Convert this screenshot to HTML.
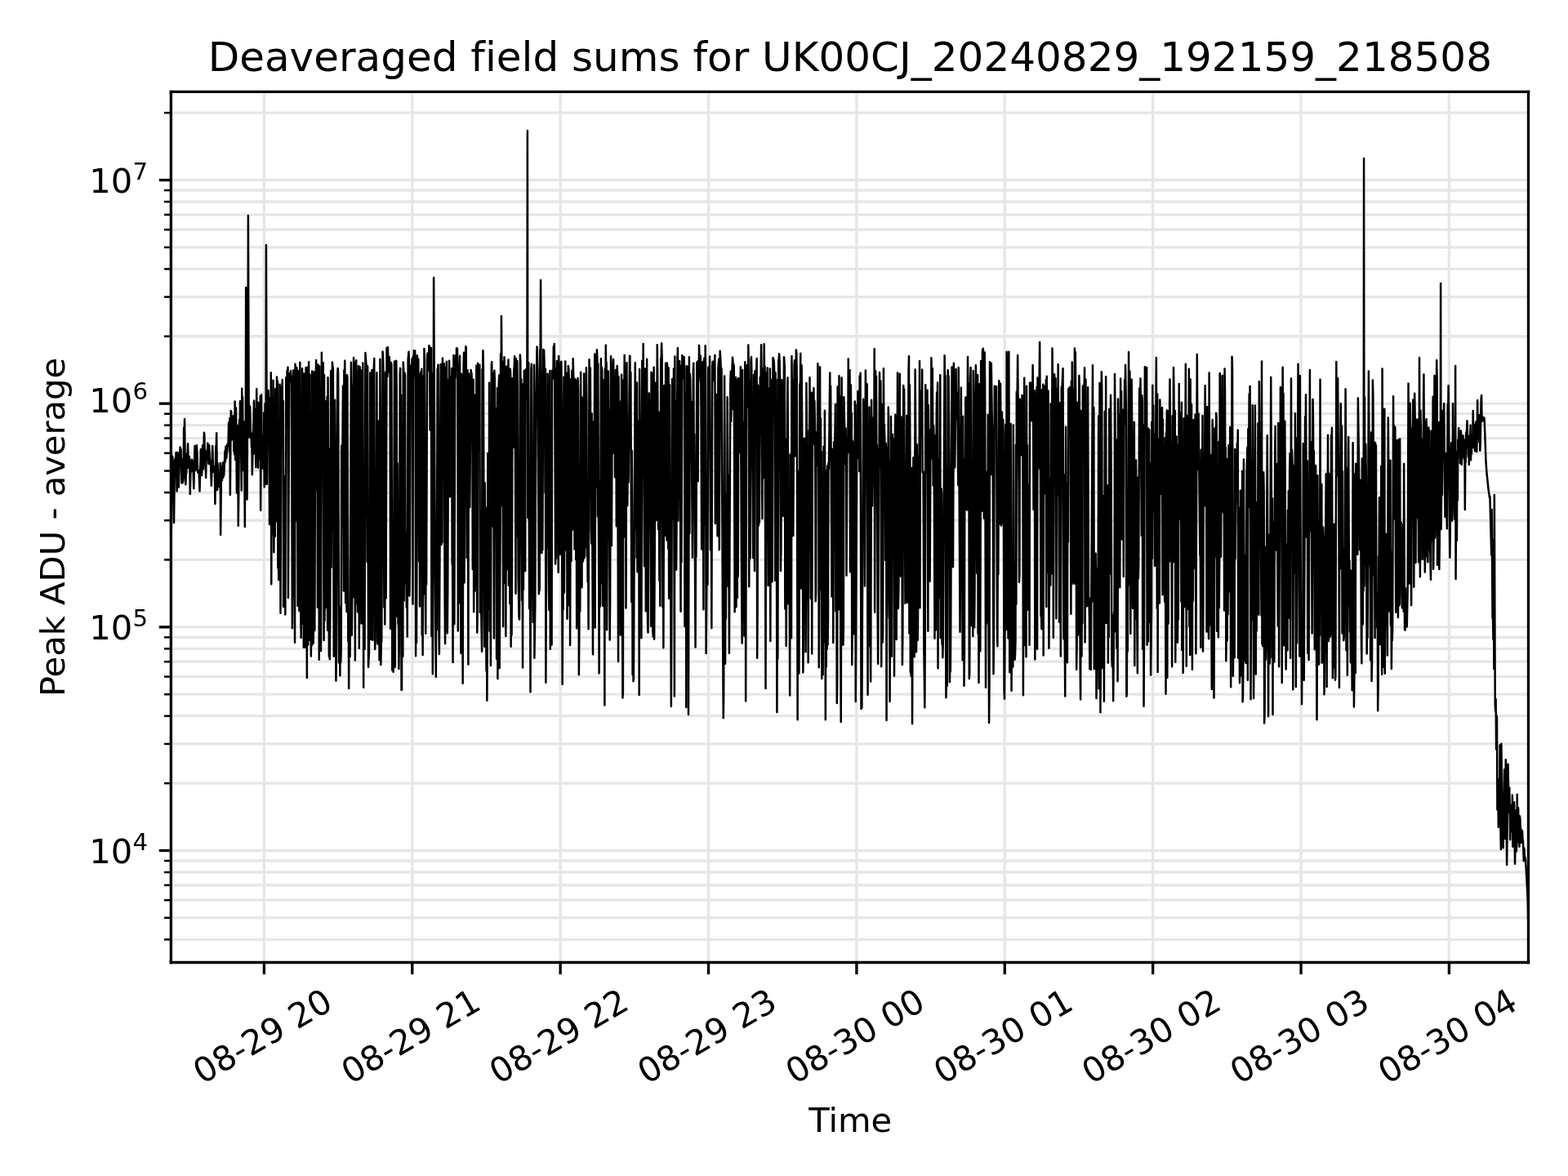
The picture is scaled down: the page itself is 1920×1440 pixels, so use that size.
<!DOCTYPE html>
<html><head><meta charset="utf-8"><title>Deaveraged field sums</title>
<style>html,body{margin:0;padding:0;background:#fff;}body{width:1920px;height:1440px;overflow:hidden;}svg{display:block;}text{font-variant-ligatures:none;font-feature-settings:"liga" 0,"clig" 0;}</style>
</head><body>
<svg width="1920" height="1440" viewBox="0 0 460.8 345.6" version="1.1"><defs><style type="text/css">*{stroke-linejoin: round; stroke-linecap: butt}</style></defs><g id="figure_1"><g id="patch_1"><path d="M 0 345.6 L 460.8 345.6 L 460.8 0 L 0 0 z" style="fill: #ffffff"/></g><g id="axes_1"><g id="patch_2"><path d="M 50.25 282.84 L 449.16 282.84 L 449.16 26.97 L 50.25 26.97 z" style="fill: #ffffff"/></g><g id="matplotlib.axis_1"><g id="xtick_1"><g id="line2d_1"><path d="M 77.61 282.84 L 77.61 26.97" clip-path="url(#pa253ac6e22)" style="fill: none; stroke: #e6e6e6; stroke-width: 0.8; stroke-linecap: square"/></g><g id="line2d_2"><g><path d="M 0 0 L 0 3.5" transform="translate(77.616 282.84)" style="stroke: #000000; stroke-width: 0.8"/></g></g><g id="text_1"><g transform="translate(-0.120 -0.120)"><text style="font-size: 10px; font-family: 'DejaVu Sans', sans-serif" transform="translate(59.52703 318.900909) rotate(-30)">08-29 20</text></g></g></g><g id="xtick_2"><g id="line2d_3"><path d="M 121.14 282.84 L 121.14 26.97" clip-path="url(#pa253ac6e22)" style="fill: none; stroke: #e6e6e6; stroke-width: 0.8; stroke-linecap: square"/></g><g id="line2d_4"><g><path d="M 0 0 L 0 3.5" transform="translate(121.146 282.84)" style="stroke: #000000; stroke-width: 0.8"/></g></g><g id="text_2"><g transform="translate(-0.120 -0.120)"><text style="font-size: 10px; font-family: 'DejaVu Sans', sans-serif" transform="translate(103.05703 318.900909) rotate(-30)">08-29 21</text></g></g></g><g id="xtick_3"><g id="line2d_5"><path d="M 164.67 282.84 L 164.67 26.97" clip-path="url(#pa253ac6e22)" style="fill: none; stroke: #e6e6e6; stroke-width: 0.8; stroke-linecap: square"/></g><g id="line2d_6"><g><path d="M 0 0 L 0 3.5" transform="translate(164.676 282.84)" style="stroke: #000000; stroke-width: 0.8"/></g></g><g id="text_3"><g transform="translate(-0.120 -0.120)"><text style="font-size: 10px; font-family: 'DejaVu Sans', sans-serif" transform="translate(146.58703 318.900909) rotate(-30)">08-29 22</text></g></g></g><g id="xtick_4"><g id="line2d_7"><path d="M 208.20 282.84 L 208.20 26.97" clip-path="url(#pa253ac6e22)" style="fill: none; stroke: #e6e6e6; stroke-width: 0.8; stroke-linecap: square"/></g><g id="line2d_8"><g><path d="M 0 0 L 0 3.5" transform="translate(208.206 282.84)" style="stroke: #000000; stroke-width: 0.8"/></g></g><g id="text_4"><g transform="translate(-0.120 -0.120)"><text style="font-size: 10px; font-family: 'DejaVu Sans', sans-serif" transform="translate(190.11703 318.900909) rotate(-30)">08-29 23</text></g></g></g><g id="xtick_5"><g id="line2d_9"><path d="M 251.73 282.84 L 251.73 26.97" clip-path="url(#pa253ac6e22)" style="fill: none; stroke: #e6e6e6; stroke-width: 0.8; stroke-linecap: square"/></g><g id="line2d_10"><g><path d="M 0 0 L 0 3.5" transform="translate(251.736 282.84)" style="stroke: #000000; stroke-width: 0.8"/></g></g><g id="text_5"><g transform="translate(-0.120 -0.120)"><text style="font-size: 10px; font-family: 'DejaVu Sans', sans-serif" transform="translate(233.64703 318.900909) rotate(-30)">08-30 00</text></g></g></g><g id="xtick_6"><g id="line2d_11"><path d="M 295.26 282.84 L 295.26 26.97" clip-path="url(#pa253ac6e22)" style="fill: none; stroke: #e6e6e6; stroke-width: 0.8; stroke-linecap: square"/></g><g id="line2d_12"><g><path d="M 0 0 L 0 3.5" transform="translate(295.266 282.84)" style="stroke: #000000; stroke-width: 0.8"/></g></g><g id="text_6"><g transform="translate(-0.120 -0.120)"><text style="font-size: 10px; font-family: 'DejaVu Sans', sans-serif" transform="translate(277.17703 318.900909) rotate(-30)">08-30 01</text></g></g></g><g id="xtick_7"><g id="line2d_13"><path d="M 338.79 282.84 L 338.79 26.97" clip-path="url(#pa253ac6e22)" style="fill: none; stroke: #e6e6e6; stroke-width: 0.8; stroke-linecap: square"/></g><g id="line2d_14"><g><path d="M 0 0 L 0 3.5" transform="translate(338.796 282.84)" style="stroke: #000000; stroke-width: 0.8"/></g></g><g id="text_7"><g transform="translate(-0.120 -0.120)"><text style="font-size: 10px; font-family: 'DejaVu Sans', sans-serif" transform="translate(320.70703 318.900909) rotate(-30)">08-30 02</text></g></g></g><g id="xtick_8"><g id="line2d_15"><path d="M 382.32 282.84 L 382.32 26.97" clip-path="url(#pa253ac6e22)" style="fill: none; stroke: #e6e6e6; stroke-width: 0.8; stroke-linecap: square"/></g><g id="line2d_16"><g><path d="M 0 0 L 0 3.5" transform="translate(382.326 282.84)" style="stroke: #000000; stroke-width: 0.8"/></g></g><g id="text_8"><g transform="translate(-0.120 -0.120)"><text style="font-size: 10px; font-family: 'DejaVu Sans', sans-serif" transform="translate(364.23703 318.900909) rotate(-30)">08-30 03</text></g></g></g><g id="xtick_9"><g id="line2d_17"><path d="M 425.85 282.84 L 425.85 26.97" clip-path="url(#pa253ac6e22)" style="fill: none; stroke: #e6e6e6; stroke-width: 0.8; stroke-linecap: square"/></g><g id="line2d_18"><g><path d="M 0 0 L 0 3.5" transform="translate(425.856 282.84)" style="stroke: #000000; stroke-width: 0.8"/></g></g><g id="text_9"><g transform="translate(-0.120 -0.120)"><text style="font-size: 10px; font-family: 'DejaVu Sans', sans-serif" transform="translate(407.76703 318.900909) rotate(-30)">08-30 04</text></g></g></g><g id="text_10"><g transform="translate(0.180 0.456)"><text style="font-size: 10px; font-family: 'DejaVu Sans', sans-serif; text-anchor: middle" x="249.708" y="332.300408" transform="rotate(-0 249.708 332.300408)">Time</text></g></g></g><g id="matplotlib.axis_2"><g id="ytick_1"><g id="line2d_19"><path d="M 50.25 249.96 L 449.16 249.96" clip-path="url(#pa253ac6e22)" style="fill: none; stroke: #e6e6e6; stroke-width: 0.8; stroke-linecap: square"/></g><g id="line2d_20"><g><path d="M 0 0 L -3.5 0" transform="translate(50.256 249.9624)" style="stroke: #000000; stroke-width: 0.8"/></g></g><g id="text_11"><!-- $\mathdefault{10^{4}}$ --><g transform="translate(25.656 253.761619)"><g transform="translate(0.552 -0.120)"><text><tspan x="0" y="-0.064063" style="font-size: 10px; font-family: 'DejaVu Sans', sans-serif">1</tspan><tspan x="6.362305" y="-0.064063" style="font-size: 10px; font-family: 'DejaVu Sans', sans-serif">0</tspan><tspan x="12.820312" y="-3.892188" style="font-size: 7px; font-family: 'DejaVu Sans', sans-serif">4</tspan></text></g></g></g></g><g id="ytick_2"><g id="line2d_21"><path d="M 50.25 184.28 L 449.16 184.28" clip-path="url(#pa253ac6e22)" style="fill: none; stroke: #e6e6e6; stroke-width: 0.8; stroke-linecap: square"/></g><g id="line2d_22"><g><path d="M 0 0 L -3.5 0" transform="translate(50.256 184.2816)" style="stroke: #000000; stroke-width: 0.8"/></g></g><g id="text_12"><!-- $\mathdefault{10^{5}}$ --><g transform="translate(25.656 188.080819)"><g transform="translate(0.552 -0.120)"><text><tspan x="0" y="-0.064063" style="font-size: 10px; font-family: 'DejaVu Sans', sans-serif">1</tspan><tspan x="6.362305" y="-0.064063" style="font-size: 10px; font-family: 'DejaVu Sans', sans-serif">0</tspan><tspan x="12.820312" y="-3.892188" style="font-size: 7px; font-family: 'DejaVu Sans', sans-serif">5</tspan></text></g></g></g></g><g id="ytick_3"><g id="line2d_23"><path d="M 50.25 118.60 L 449.16 118.60" clip-path="url(#pa253ac6e22)" style="fill: none; stroke: #e6e6e6; stroke-width: 0.8; stroke-linecap: square"/></g><g id="line2d_24"><g><path d="M 0 0 L -3.5 0" transform="translate(50.256 118.6008)" style="stroke: #000000; stroke-width: 0.8"/></g></g><g id="text_13"><!-- $\mathdefault{10^{6}}$ --><g transform="translate(25.656 122.400019)"><g transform="translate(0.552 -0.120)"><text><tspan x="0" y="-0.976562" style="font-size: 10px; font-family: 'DejaVu Sans', sans-serif">1</tspan><tspan x="6.362305" y="-0.976562" style="font-size: 10px; font-family: 'DejaVu Sans', sans-serif">0</tspan><tspan x="12.820312" y="-4.804688" style="font-size: 7px; font-family: 'DejaVu Sans', sans-serif">6</tspan></text></g></g></g></g><g id="ytick_4"><g id="line2d_25"><path d="M 50.25 52.92 L 449.16 52.92" clip-path="url(#pa253ac6e22)" style="fill: none; stroke: #e6e6e6; stroke-width: 0.8; stroke-linecap: square"/></g><g id="line2d_26"><g><path d="M 0 0 L -3.5 0" transform="translate(50.256 52.92)" style="stroke: #000000; stroke-width: 0.8"/></g></g><g id="text_14"><!-- $\mathdefault{10^{7}}$ --><g transform="translate(25.656 56.719219)"><g transform="translate(0.552 -0.120)"><text><tspan x="0" y="-0.064063" style="font-size: 10px; font-family: 'DejaVu Sans', sans-serif">1</tspan><tspan x="6.362305" y="-0.064063" style="font-size: 10px; font-family: 'DejaVu Sans', sans-serif">0</tspan><tspan x="12.820312" y="-3.892188" style="font-size: 7px; font-family: 'DejaVu Sans', sans-serif">7</tspan></text></g></g></g></g><g id="ytick_5"><g id="line2d_27"><path d="M 50.25 276.09 L 449.16 276.09" clip-path="url(#pa253ac6e22)" style="fill: none; stroke: #e6e6e6; stroke-width: 0.8; stroke-linecap: square"/></g><g id="line2d_28"><g><path d="M 0 0 L -2 0" transform="translate(50.256 276.099418)" style="stroke: #000000; stroke-width: 0.6"/></g></g></g><g id="ytick_6"><g id="line2d_29"><path d="M 50.25 269.73 L 449.16 269.73" clip-path="url(#pa253ac6e22)" style="fill: none; stroke: #e6e6e6; stroke-width: 0.8; stroke-linecap: square"/></g><g id="line2d_30"><g><path d="M 0 0 L -2 0" transform="translate(50.256 269.734291)" style="stroke: #000000; stroke-width: 0.6"/></g></g></g><g id="ytick_7"><g id="line2d_31"><path d="M 50.25 264.53 L 449.16 264.53" clip-path="url(#pa253ac6e22)" style="fill: none; stroke: #e6e6e6; stroke-width: 0.8; stroke-linecap: square"/></g><g id="line2d_32"><g><path d="M 0 0 L -2 0" transform="translate(50.256 264.533603)" style="stroke: #000000; stroke-width: 0.6"/></g></g></g><g id="ytick_8"><g id="line2d_33"><path d="M 50.25 260.13 L 449.16 260.13" clip-path="url(#pa253ac6e22)" style="fill: none; stroke: #e6e6e6; stroke-width: 0.8; stroke-linecap: square"/></g><g id="line2d_34"><g><path d="M 0 0 L -2 0" transform="translate(50.256 260.136485)" style="stroke: #000000; stroke-width: 0.6"/></g></g></g><g id="ytick_9"><g id="line2d_35"><path d="M 50.25 256.32 L 449.16 256.32" clip-path="url(#pa253ac6e22)" style="fill: none; stroke: #e6e6e6; stroke-width: 0.8; stroke-linecap: square"/></g><g id="line2d_36"><g><path d="M 0 0 L -2 0" transform="translate(50.256 256.327527)" style="stroke: #000000; stroke-width: 0.6"/></g></g></g><g id="ytick_10"><g id="line2d_37"><path d="M 50.25 252.96 L 449.16 252.96" clip-path="url(#pa253ac6e22)" style="fill: none; stroke: #e6e6e6; stroke-width: 0.8; stroke-linecap: square"/></g><g id="line2d_38"><g><path d="M 0 0 L -2 0" transform="translate(50.256 252.967789)" style="stroke: #000000; stroke-width: 0.6"/></g></g></g><g id="ytick_11"><g id="line2d_39"><path d="M 50.25 230.19 L 449.16 230.19" clip-path="url(#pa253ac6e22)" style="fill: none; stroke: #e6e6e6; stroke-width: 0.8; stroke-linecap: square"/></g><g id="line2d_40"><g><path d="M 0 0 L -2 0" transform="translate(50.256 230.190509)" style="stroke: #000000; stroke-width: 0.6"/></g></g></g><g id="ytick_12"><g id="line2d_41"><path d="M 50.25 218.62 L 449.16 218.62" clip-path="url(#pa253ac6e22)" style="fill: none; stroke: #e6e6e6; stroke-width: 0.8; stroke-linecap: square"/></g><g id="line2d_42"><g><path d="M 0 0 L -2 0" transform="translate(50.256 218.624694)" style="stroke: #000000; stroke-width: 0.6"/></g></g></g><g id="ytick_13"><g id="line2d_43"><path d="M 50.25 210.41 L 449.16 210.41" clip-path="url(#pa253ac6e22)" style="fill: none; stroke: #e6e6e6; stroke-width: 0.8; stroke-linecap: square"/></g><g id="line2d_44"><g><path d="M 0 0 L -2 0" transform="translate(50.256 210.418618)" style="stroke: #000000; stroke-width: 0.6"/></g></g></g><g id="ytick_14"><g id="line2d_45"><path d="M 50.25 204.05 L 449.16 204.05" clip-path="url(#pa253ac6e22)" style="fill: none; stroke: #e6e6e6; stroke-width: 0.8; stroke-linecap: square"/></g><g id="line2d_46"><g><path d="M 0 0 L -2 0" transform="translate(50.256 204.053491)" style="stroke: #000000; stroke-width: 0.6"/></g></g></g><g id="ytick_15"><g id="line2d_47"><path d="M 50.25 198.85 L 449.16 198.85" clip-path="url(#pa253ac6e22)" style="fill: none; stroke: #e6e6e6; stroke-width: 0.8; stroke-linecap: square"/></g><g id="line2d_48"><g><path d="M 0 0 L -2 0" transform="translate(50.256 198.852803)" style="stroke: #000000; stroke-width: 0.6"/></g></g></g><g id="ytick_16"><g id="line2d_49"><path d="M 50.25 194.45 L 449.16 194.45" clip-path="url(#pa253ac6e22)" style="fill: none; stroke: #e6e6e6; stroke-width: 0.8; stroke-linecap: square"/></g><g id="line2d_50"><g><path d="M 0 0 L -2 0" transform="translate(50.256 194.455685)" style="stroke: #000000; stroke-width: 0.6"/></g></g></g><g id="ytick_17"><g id="line2d_51"><path d="M 50.25 190.64 L 449.16 190.64" clip-path="url(#pa253ac6e22)" style="fill: none; stroke: #e6e6e6; stroke-width: 0.8; stroke-linecap: square"/></g><g id="line2d_52"><g><path d="M 0 0 L -2 0" transform="translate(50.256 190.646727)" style="stroke: #000000; stroke-width: 0.6"/></g></g></g><g id="ytick_18"><g id="line2d_53"><path d="M 50.25 187.28 L 449.16 187.28" clip-path="url(#pa253ac6e22)" style="fill: none; stroke: #e6e6e6; stroke-width: 0.8; stroke-linecap: square"/></g><g id="line2d_54"><g><path d="M 0 0 L -2 0" transform="translate(50.256 187.286989)" style="stroke: #000000; stroke-width: 0.6"/></g></g></g><g id="ytick_19"><g id="line2d_55"><path d="M 50.25 164.50 L 449.16 164.50" clip-path="url(#pa253ac6e22)" style="fill: none; stroke: #e6e6e6; stroke-width: 0.8; stroke-linecap: square"/></g><g id="line2d_56"><g><path d="M 0 0 L -2 0" transform="translate(50.256 164.509709)" style="stroke: #000000; stroke-width: 0.6"/></g></g></g><g id="ytick_20"><g id="line2d_57"><path d="M 50.25 152.94 L 449.16 152.94" clip-path="url(#pa253ac6e22)" style="fill: none; stroke: #e6e6e6; stroke-width: 0.8; stroke-linecap: square"/></g><g id="line2d_58"><g><path d="M 0 0 L -2 0" transform="translate(50.256 152.943894)" style="stroke: #000000; stroke-width: 0.6"/></g></g></g><g id="ytick_21"><g id="line2d_59"><path d="M 50.25 144.73 L 449.16 144.73" clip-path="url(#pa253ac6e22)" style="fill: none; stroke: #e6e6e6; stroke-width: 0.8; stroke-linecap: square"/></g><g id="line2d_60"><g><path d="M 0 0 L -2 0" transform="translate(50.256 144.737818)" style="stroke: #000000; stroke-width: 0.6"/></g></g></g><g id="ytick_22"><g id="line2d_61"><path d="M 50.25 138.37 L 449.16 138.37" clip-path="url(#pa253ac6e22)" style="fill: none; stroke: #e6e6e6; stroke-width: 0.8; stroke-linecap: square"/></g><g id="line2d_62"><g><path d="M 0 0 L -2 0" transform="translate(50.256 138.372691)" style="stroke: #000000; stroke-width: 0.6"/></g></g></g><g id="ytick_23"><g id="line2d_63"><path d="M 50.25 133.17 L 449.16 133.17" clip-path="url(#pa253ac6e22)" style="fill: none; stroke: #e6e6e6; stroke-width: 0.8; stroke-linecap: square"/></g><g id="line2d_64"><g><path d="M 0 0 L -2 0" transform="translate(50.256 133.172003)" style="stroke: #000000; stroke-width: 0.6"/></g></g></g><g id="ytick_24"><g id="line2d_65"><path d="M 50.25 128.77 L 449.16 128.77" clip-path="url(#pa253ac6e22)" style="fill: none; stroke: #e6e6e6; stroke-width: 0.8; stroke-linecap: square"/></g><g id="line2d_66"><g><path d="M 0 0 L -2 0" transform="translate(50.256 128.774885)" style="stroke: #000000; stroke-width: 0.6"/></g></g></g><g id="ytick_25"><g id="line2d_67"><path d="M 50.25 124.96 L 449.16 124.96" clip-path="url(#pa253ac6e22)" style="fill: none; stroke: #e6e6e6; stroke-width: 0.8; stroke-linecap: square"/></g><g id="line2d_68"><g><path d="M 0 0 L -2 0" transform="translate(50.256 124.965927)" style="stroke: #000000; stroke-width: 0.6"/></g></g></g><g id="ytick_26"><g id="line2d_69"><path d="M 50.25 121.60 L 449.16 121.60" clip-path="url(#pa253ac6e22)" style="fill: none; stroke: #e6e6e6; stroke-width: 0.8; stroke-linecap: square"/></g><g id="line2d_70"><g><path d="M 0 0 L -2 0" transform="translate(50.256 121.606189)" style="stroke: #000000; stroke-width: 0.6"/></g></g></g><g id="ytick_27"><g id="line2d_71"><path d="M 50.25 98.82 L 449.16 98.82" clip-path="url(#pa253ac6e22)" style="fill: none; stroke: #e6e6e6; stroke-width: 0.8; stroke-linecap: square"/></g><g id="line2d_72"><g><path d="M 0 0 L -2 0" transform="translate(50.256 98.828909)" style="stroke: #000000; stroke-width: 0.6"/></g></g></g><g id="ytick_28"><g id="line2d_73"><path d="M 50.25 87.26 L 449.16 87.26" clip-path="url(#pa253ac6e22)" style="fill: none; stroke: #e6e6e6; stroke-width: 0.8; stroke-linecap: square"/></g><g id="line2d_74"><g><path d="M 0 0 L -2 0" transform="translate(50.256 87.263094)" style="stroke: #000000; stroke-width: 0.6"/></g></g></g><g id="ytick_29"><g id="line2d_75"><path d="M 50.25 79.05 L 449.16 79.05" clip-path="url(#pa253ac6e22)" style="fill: none; stroke: #e6e6e6; stroke-width: 0.8; stroke-linecap: square"/></g><g id="line2d_76"><g><path d="M 0 0 L -2 0" transform="translate(50.256 79.057018)" style="stroke: #000000; stroke-width: 0.6"/></g></g></g><g id="ytick_30"><g id="line2d_77"><path d="M 50.25 72.69 L 449.16 72.69" clip-path="url(#pa253ac6e22)" style="fill: none; stroke: #e6e6e6; stroke-width: 0.8; stroke-linecap: square"/></g><g id="line2d_78"><g><path d="M 0 0 L -2 0" transform="translate(50.256 72.691891)" style="stroke: #000000; stroke-width: 0.6"/></g></g></g><g id="ytick_31"><g id="line2d_79"><path d="M 50.25 67.49 L 449.16 67.49" clip-path="url(#pa253ac6e22)" style="fill: none; stroke: #e6e6e6; stroke-width: 0.8; stroke-linecap: square"/></g><g id="line2d_80"><g><path d="M 0 0 L -2 0" transform="translate(50.256 67.491203)" style="stroke: #000000; stroke-width: 0.6"/></g></g></g><g id="ytick_32"><g id="line2d_81"><path d="M 50.25 63.09 L 449.16 63.09" clip-path="url(#pa253ac6e22)" style="fill: none; stroke: #e6e6e6; stroke-width: 0.8; stroke-linecap: square"/></g><g id="line2d_82"><g><path d="M 0 0 L -2 0" transform="translate(50.256 63.094085)" style="stroke: #000000; stroke-width: 0.6"/></g></g></g><g id="ytick_33"><g id="line2d_83"><path d="M 50.25 59.28 L 449.16 59.28" clip-path="url(#pa253ac6e22)" style="fill: none; stroke: #e6e6e6; stroke-width: 0.8; stroke-linecap: square"/></g><g id="line2d_84"><g><path d="M 0 0 L -2 0" transform="translate(50.256 59.285127)" style="stroke: #000000; stroke-width: 0.6"/></g></g></g><g id="ytick_34"><g id="line2d_85"><path d="M 50.25 55.92 L 449.16 55.92" clip-path="url(#pa253ac6e22)" style="fill: none; stroke: #e6e6e6; stroke-width: 0.8; stroke-linecap: square"/></g><g id="line2d_86"><g><path d="M 0 0 L -2 0" transform="translate(50.256 55.925389)" style="stroke: #000000; stroke-width: 0.6"/></g></g></g><g id="ytick_35"><g id="line2d_87"><path d="M 50.25 33.14 L 449.16 33.14" clip-path="url(#pa253ac6e22)" style="fill: none; stroke: #e6e6e6; stroke-width: 0.8; stroke-linecap: square"/></g><g id="line2d_88"><g><path d="M 0 0 L -2 0" transform="translate(50.256 33.148109)" style="stroke: #000000; stroke-width: 0.6"/></g></g></g><g id="text_15"><g transform="translate(-0.552 0.000)"><text style="font-size: 10px; font-family: 'DejaVu Sans', sans-serif; text-anchor: middle" x="19.576313" y="154.908" transform="rotate(-90 19.576313 154.908)">Peak ADU - average</text></g></g></g><g id="line2d_89"><path d="M 50.25 138.80 L 50.36 156 L 50.58 134.06 L 50.68 134.12 L 50.79 135.55 L 51.01 142.33 L 51.12 153.6 L 51.33 136.89 L 51.44 134.80 L 51.55 136.57 L 51.76 132.94 L 51.98 144.38 L 52.2 133.03 L 52.52 143.15 L 52.74 134.67 L 52.95 131.40 L 53.06 132.26 L 53.17 132.00 L 53.38 141.95 L 53.60 134.99 L 53.71 141.85 L 53.92 139.50 L 54.03 125.73 L 54.14 130.94 L 54.25 123.12 L 54.46 141.13 L 54.57 142.40 L 54.68 138.68 L 54.79 139.15 L 54.9 133.47 L 55.00 136.24 L 55.22 130.40 L 55.33 137.45 L 55.44 135.48 L 55.54 136.61 L 55.65 134.16 L 55.76 137.10 L 55.87 145.2 L 56.08 135.29 L 56.19 138.60 L 56.30 137.53 L 56.41 135.06 L 56.52 135.99 L 56.62 135.72 L 56.73 136.01 L 56.95 143.56 L 57.16 134.17 L 57.27 131.02 L 57.38 131.42 L 57.49 138.25 L 57.81 130.86 L 57.92 132.91 L 58.14 138.86 L 58.24 138.18 L 58.46 138.73 L 58.68 144.36 L 59.00 132.07 L 59.11 133.25 L 59.32 139.69 L 59.54 130.92 L 59.65 132.95 L 59.76 137.83 L 59.97 127.16 L 60.08 127.72 L 60.19 133.82 L 60.3 132.38 L 60.51 140.37 L 60.62 133.47 L 60.84 134.86 L 61.05 130.23 L 61.27 136.24 L 61.38 135.72 L 61.48 130.85 L 61.70 136.37 L 61.81 135.32 L 61.92 136.04 L 62.13 142.71 L 62.35 134.26 L 62.46 131.02 L 62.67 138.73 L 62.78 137.67 L 62.89 137.97 L 63 137.11 L 63.10 137.93 L 63.21 148.08 L 63.43 131.19 L 63.54 131.57 L 63.64 127.29 L 63.86 144 L 63.97 136.21 L 64.08 142.11 L 64.18 141.05 L 64.51 143.18 L 64.72 136.06 L 64.83 157.2 L 65.05 137.41 L 65.16 137.06 L 65.26 141.17 L 65.48 135.96 L 65.59 140.35 L 65.7 138.99 L 65.80 139.73 L 66.13 132.49 L 66.24 135.67 L 66.34 131.20 L 66.45 132.31 L 66.56 134.65 L 66.78 130.64 L 66.88 130.51 L 66.99 130.96 L 67.10 130.10 L 67.21 124.21 L 67.42 132.76 L 67.53 122.96 L 67.64 145.44 L 67.86 120.75 L 67.96 121.04 L 68.18 129.19 L 68.29 124.53 L 68.4 125.40 L 68.61 122.21 L 68.72 132.56 L 68.83 131.84 L 68.94 133.54 L 69.04 117.98 L 69.15 135.12 L 69.37 119.87 L 69.58 144.83 L 69.91 125.04 L 70.02 154.52 L 70.12 147.05 L 70.34 123.32 L 70.45 130.02 L 70.56 117.89 L 70.66 128.97 L 70.77 126.83 L 70.99 144.14 L 71.1 114.20 L 71.20 125.89 L 71.31 116.67 L 71.42 137.54 L 71.53 135.47 L 71.64 138.35 L 71.74 123.94 L 71.96 154.79 L 72.07 128.88 L 72.18 135.05 L 72.28 84.48 L 72.39 130.07 L 72.50 119.28 L 72.61 146.76 L 72.72 126.75 L 72.82 127.45 L 72.93 63.36 L 73.15 127.95 L 73.26 125.21 L 73.36 128.58 L 73.47 119.41 L 73.69 127.36 L 73.8 127.18 L 73.90 131.39 L 74.01 128.76 L 74.12 139.49 L 74.34 130.38 L 74.66 117.75 L 74.77 133.31 L 74.88 120.20 L 74.98 120.50 L 75.20 137.36 L 75.42 114.31 L 75.63 134.99 L 75.74 118.30 L 75.85 137.43 L 76.06 118.32 L 76.28 128.99 L 76.39 134.89 L 76.5 116.38 L 76.60 150.01 L 76.82 115.98 L 76.93 135.75 L 77.04 127.87 L 77.14 137.65 L 77.25 128.51 L 77.36 130.90 L 77.47 137.61 L 77.58 121.33 L 77.68 143.12 L 77.90 118.54 L 78.12 142.27 L 78.22 72 L 78.44 142.27 L 78.55 114.47 L 78.66 114.96 L 78.76 124.29 L 78.87 114.86 L 79.09 129.88 L 79.2 154.10 L 79.41 116.93 L 79.52 138.91 L 79.63 109.51 L 79.74 171.68 L 79.95 116.57 L 80.06 156.99 L 80.17 143.72 L 80.28 111.81 L 80.49 162.29 L 80.71 121.79 L 80.82 157.64 L 80.92 114.29 L 81.14 153.21 L 81.36 110.79 L 81.46 113.69 L 81.57 112.12 L 81.68 166.93 L 81.79 161.88 L 81.9 170.41 L 82.11 164.46 L 82.22 112.96 L 82.44 180.18 L 82.65 113.68 L 82.76 119.35 L 82.98 111.58 L 83.08 130.59 L 83.19 117.86 L 83.30 178.34 L 83.41 166.19 L 83.52 168.15 L 83.62 176.65 L 83.73 139.92 L 83.84 180.59 L 84.06 110.96 L 84.16 112.02 L 84.27 117.42 L 84.38 108.91 L 84.49 112.43 L 84.6 107.94 L 84.70 175.68 L 85.03 109.78 L 85.24 112.21 L 85.46 108.94 L 85.57 111.27 L 85.68 110.61 L 85.89 184.62 L 86.00 169.29 L 86.11 175.41 L 86.22 108.86 L 86.32 158.10 L 86.43 139.43 L 86.65 188.81 L 86.76 106.99 L 86.86 114.12 L 86.97 108.34 L 87.08 153.11 L 87.19 108.01 L 87.3 109.02 L 87.40 129.30 L 87.51 178.09 L 87.84 109.02 L 87.94 179.52 L 88.16 106.51 L 88.38 179.16 L 88.48 187.38 L 88.59 130.23 L 88.70 183.35 L 88.81 108.30 L 88.92 161.94 L 89.02 109.75 L 89.24 190.23 L 89.35 109.82 L 89.56 131.49 L 89.67 190.27 L 89.78 189.07 L 89.89 108.06 L 90.21 199.18 L 90.32 107.92 L 90.43 108.30 L 90.54 189.51 L 90.75 106.36 L 90.97 188.11 L 91.08 110.13 L 91.18 172.73 L 91.29 153.27 L 91.40 192.83 L 91.51 178.81 L 91.62 189.72 L 91.72 109.10 L 91.83 110.22 L 91.94 115.98 L 92.05 189.13 L 92.16 184.73 L 92.26 109.32 L 92.48 185.30 L 92.7 115.79 L 92.91 105.82 L 93.02 110.42 L 93.13 143.90 L 93.24 108.38 L 93.34 178.50 L 93.45 107.16 L 93.56 108.10 L 93.67 108.64 L 93.78 193.86 L 93.88 107.67 L 94.10 187.11 L 94.21 180.59 L 94.32 191.29 L 94.53 103.60 L 94.64 135.68 L 94.75 107.30 L 94.86 108.89 L 94.96 106.63 L 95.18 188.16 L 95.29 110.21 L 95.4 182.41 L 95.83 117.91 L 95.94 178.53 L 96.04 177.58 L 96.15 116.57 L 96.26 185.24 L 96.37 110.97 L 96.69 192.94 L 96.80 132.00 L 96.91 193.72 L 97.02 180.38 L 97.23 109.02 L 97.34 166.72 L 97.66 106.43 L 97.77 108.02 L 97.88 108.07 L 98.1 192.87 L 98.20 190.74 L 98.31 181.73 L 98.42 117.56 L 98.53 133.37 L 98.74 200.05 L 98.85 192.98 L 99.18 110.01 L 99.28 108.23 L 99.39 109.95 L 99.61 194.76 L 99.72 178.20 L 99.93 198.52 L 100.04 181.14 L 100.15 194.61 L 100.26 189.82 L 100.36 130.98 L 100.47 154.73 L 100.8 113.43 L 101.01 173.64 L 101.12 108.86 L 101.23 115.46 L 101.34 105.99 L 101.44 116.80 L 101.55 177.17 L 101.66 162.92 L 101.77 166.41 L 101.88 179.75 L 101.98 110.20 L 102.09 111.07 L 102.31 188.38 L 102.42 180.39 L 102.52 202.33 L 102.63 180.62 L 102.85 192.95 L 103.17 106.53 L 103.28 114.16 L 103.39 186.64 L 103.60 164.03 L 103.71 113.32 L 103.82 175.45 L 103.93 105.13 L 104.04 111.37 L 104.14 128.11 L 104.25 106.53 L 104.36 194.04 L 104.58 106.77 L 104.68 105.90 L 104.79 177.38 L 104.90 109.15 L 105.12 179.83 L 105.22 175.04 L 105.33 107.50 L 105.44 108.26 L 105.55 190.52 L 105.76 107.79 L 105.87 110.12 L 105.98 177.96 L 106.09 172.11 L 106.2 183.26 L 106.30 108.80 L 106.52 181.41 L 106.63 106.66 L 106.84 202.04 L 106.95 136.79 L 107.06 140.09 L 107.17 190.74 L 107.38 103.69 L 107.71 108.40 L 107.92 165.09 L 108.03 107.65 L 108.25 196.01 L 108.46 191.75 L 108.57 174.13 L 108.68 187.68 L 108.79 109.55 L 108.9 175.45 L 109.00 141.91 L 109.11 187.90 L 109.22 181.95 L 109.33 108.71 L 109.44 125.51 L 109.54 188.08 L 109.76 108.95 L 109.87 108.20 L 109.98 105.36 L 110.19 190.78 L 110.30 188.53 L 110.41 175.84 L 110.52 146.07 L 110.62 157.93 L 110.73 109.53 L 110.95 188.74 L 111.06 189.32 L 111.16 124.86 L 111.27 138.70 L 111.38 123.61 L 111.49 194.00 L 111.6 178.08 L 111.70 105.61 L 111.81 127.75 L 111.92 195.33 L 112.03 188.47 L 112.14 188.59 L 112.24 167.36 L 112.46 103.34 L 112.57 104.96 L 112.68 109.34 L 112.89 178.45 L 113.00 126.23 L 113.11 183.47 L 113.32 109.39 L 113.43 175.82 L 113.65 102.23 L 113.76 104.95 L 113.86 110.61 L 113.97 102.06 L 114.19 109.32 L 114.40 104.87 L 114.62 108.76 L 114.73 184.71 L 114.84 176.67 L 114.94 106.55 L 115.05 107.11 L 115.27 197.00 L 115.48 174.60 L 115.59 197.47 L 115.70 174.28 L 115.92 106.18 L 116.02 108.52 L 116.13 196.03 L 116.24 108.85 L 116.35 117.73 L 116.46 106.04 L 116.56 113.98 L 116.67 181.06 L 116.78 136.18 L 117 183.46 L 117.10 178.29 L 117.21 196.56 L 117.32 189.41 L 117.54 109.75 L 117.64 108.21 L 117.75 149.45 L 117.86 116.10 L 117.97 202.79 L 118.08 202.75 L 118.29 124.80 L 118.40 192.91 L 118.51 106.46 L 118.62 108.84 L 118.72 176.48 L 118.83 109.56 L 118.94 109.63 L 119.05 110.40 L 119.16 171.56 L 119.26 159.20 L 119.48 178.56 L 119.59 156.44 L 119.7 187.05 L 119.91 105.75 L 120.13 103.37 L 120.24 107.31 L 120.34 175.05 L 120.45 164.83 L 120.67 107.45 L 120.88 109.77 L 120.99 109.36 L 121.10 105.44 L 121.21 108.56 L 121.32 177.51 L 121.42 104.72 L 121.53 109.10 L 121.64 103.05 L 121.75 110.76 L 121.86 108.78 L 121.96 103.08 L 122.07 110.16 L 122.18 192.78 L 122.29 172.93 L 122.4 188.80 L 122.50 163.28 L 122.61 104.48 L 122.72 127.86 L 122.94 105.56 L 123.15 164.94 L 123.26 112.34 L 123.37 178.22 L 123.48 109.96 L 123.58 168.38 L 123.69 109.26 L 123.80 160.07 L 123.91 108.44 L 124.02 186.57 L 124.12 172.72 L 124.23 192.49 L 124.45 110.49 L 124.56 174.54 L 124.66 102.47 L 124.77 104.92 L 124.99 172.53 L 125.1 186.18 L 125.20 140.89 L 125.31 171.75 L 125.53 105.67 L 125.64 103.83 L 125.85 108.86 L 125.96 108.89 L 126.07 101.58 L 126.18 101.72 L 126.28 105.92 L 126.39 126.37 L 126.61 108.26 L 126.72 102.24 L 126.82 186.93 L 126.93 109.69 L 127.15 198.04 L 127.26 181.77 L 127.47 81.6 L 127.90 169.99 L 128.12 198.88 L 128.23 155.71 L 128.34 185.18 L 128.55 108.45 L 128.66 108.86 L 128.77 107.23 L 128.98 184.99 L 129.09 192.23 L 129.52 107.05 L 129.74 160.01 L 129.85 108.52 L 129.96 159.44 L 130.06 105.26 L 130.17 110.05 L 130.28 109.30 L 130.39 109.57 L 130.5 106.87 L 130.71 176.67 L 130.82 189.12 L 130.93 169.87 L 131.04 107.99 L 131.14 109.87 L 131.25 106.28 L 131.47 186.04 L 131.58 173.72 L 131.79 111.52 L 131.90 141.86 L 132.01 106.01 L 132.12 117.19 L 132.22 145.98 L 132.44 110.68 L 132.55 137.28 L 132.76 108.22 L 132.87 165.87 L 132.98 163.63 L 133.09 194.66 L 133.30 104.42 L 133.52 183.40 L 133.74 105.27 L 133.84 111.06 L 133.95 104.40 L 134.06 108.90 L 134.17 102.30 L 134.28 108.63 L 134.38 102.40 L 134.49 108.69 L 134.60 185.41 L 134.71 143.41 L 134.82 177.26 L 135.03 108.41 L 135.14 104.60 L 135.25 165.90 L 135.36 142.23 L 135.46 191.95 L 135.57 109.89 L 135.68 111.95 L 135.79 131.43 L 136.00 200.82 L 136.22 107.73 L 136.33 103.62 L 136.44 171.26 L 136.65 110.19 L 136.76 117.27 L 136.87 101.83 L 136.98 102.04 L 137.19 163.94 L 137.30 154.56 L 137.41 108.76 L 137.62 195.23 L 137.73 109.88 L 137.84 120.34 L 137.95 111.06 L 138.06 149.10 L 138.27 124.52 L 138.38 108.72 L 138.49 114.31 L 138.6 109.67 L 138.70 112.81 L 138.81 121.06 L 138.92 167.26 L 139.14 111.52 L 139.24 179.81 L 139.46 116.07 L 139.57 173.66 L 139.78 150.80 L 139.89 154.29 L 140.00 107.47 L 140.22 185.89 L 140.32 180.26 L 140.43 106.76 L 140.54 126.75 L 140.65 108.66 L 140.76 110.94 L 140.86 132.15 L 140.97 107.21 L 141.08 179.99 L 141.19 150.12 L 141.40 178.55 L 141.62 191.44 L 141.73 108.52 L 141.84 116.97 L 141.94 103.02 L 142.05 107.83 L 142.27 180.38 L 142.38 190.00 L 142.48 141.95 L 142.59 159.69 L 142.70 149.18 L 142.92 197.12 L 143.02 151.65 L 143.13 205.85 L 143.24 182.25 L 143.35 133.24 L 143.56 178.97 L 143.67 176.43 L 143.78 112.50 L 143.89 185.48 L 144 163.31 L 144.21 195.58 L 144.43 107.44 L 144.54 106.35 L 144.86 154.68 L 144.97 109.66 L 145.18 187.55 L 145.29 108.91 L 145.40 111.76 L 145.51 143.55 L 145.72 119.96 L 145.94 193.63 L 146.05 185.99 L 146.16 114.00 L 146.26 199.45 L 146.37 179.23 L 146.59 112.49 L 146.7 110.30 L 146.80 196.32 L 147.02 156.89 L 147.13 103.99 L 147.24 144.23 L 147.34 92.88 L 147.45 105.96 L 147.56 148.63 L 147.67 109.29 L 147.88 184.07 L 147.99 106.19 L 148.10 110.84 L 148.21 104.93 L 148.32 110.56 L 148.42 171.33 L 148.53 107.77 L 148.64 186.93 L 148.86 107.75 L 148.96 111.72 L 149.07 167.28 L 149.18 107.56 L 149.29 113.71 L 149.4 105.70 L 149.50 172.02 L 149.61 160.81 L 149.72 114.57 L 149.83 177.37 L 149.94 108.41 L 150.04 109.77 L 150.15 190.01 L 150.26 160.26 L 150.37 186.58 L 150.48 166.38 L 150.58 111.17 L 150.69 112.64 L 150.80 131.60 L 151.02 108.64 L 151.12 108.08 L 151.23 104.72 L 151.34 112.06 L 151.56 174.39 L 151.66 105.43 L 151.77 157.76 L 151.99 106.09 L 152.1 114.03 L 152.31 169.56 L 152.53 181.38 L 152.64 182.05 L 152.74 157.90 L 152.85 104.29 L 152.96 106.40 L 153.07 130.55 L 153.18 111.37 L 153.39 176.47 L 153.50 157.24 L 153.61 196.21 L 153.72 112.86 L 153.82 173.30 L 154.04 108.95 L 154.15 157.03 L 154.26 111.05 L 154.36 167.79 L 154.47 108.58 L 154.58 117.13 L 154.69 108.70 L 154.8 111.10 L 154.90 110.95 L 155.01 38.4 L 155.12 152.16 L 155.34 106.57 L 155.55 178.85 L 155.66 176.49 L 155.77 165.22 L 155.88 203.34 L 156.09 108.81 L 156.20 106.99 L 156.31 162.53 L 156.42 160.72 L 156.63 182.88 L 156.96 107.23 L 157.06 193.37 L 157.28 177.05 L 157.5 119.98 L 157.82 101.91 L 158.04 110.07 L 158.36 174.56 L 158.47 151.40 L 158.58 173.49 L 158.68 102.71 L 158.79 104.82 L 158.90 82.32 L 159.22 162.51 L 159.33 109.54 L 159.44 161.60 L 159.66 102.72 L 159.76 104.26 L 159.87 102.88 L 160.09 110.94 L 160.2 144.75 L 160.30 108.40 L 160.41 200.56 L 160.63 141.82 L 160.74 161.03 L 160.95 109.84 L 161.06 125.72 L 161.28 173.78 L 161.38 179.29 L 161.60 108.97 L 161.71 190.74 L 161.82 152.21 L 162.14 189.49 L 162.25 108.92 L 162.36 109.45 L 162.46 109.88 L 162.57 111.24 L 162.68 101.81 L 162.79 108.82 L 162.9 101.04 L 163.00 109.92 L 163.22 165.72 L 163.33 108.34 L 163.44 164.09 L 163.65 106.08 L 163.76 106.19 L 163.87 106.96 L 163.98 119.45 L 164.08 168.16 L 164.19 104.64 L 164.30 107.84 L 164.41 162.01 L 164.52 157.49 L 164.62 162.93 L 164.73 106.75 L 164.84 161.77 L 164.95 106.29 L 165.06 118.72 L 165.27 201.09 L 165.38 178.14 L 165.49 179.13 L 165.70 110.81 L 165.81 174.14 L 166.14 106.19 L 166.24 115.99 L 166.35 161.61 L 166.57 109.66 L 166.68 181.86 L 167.00 107.55 L 167.11 108.46 L 167.22 110.90 L 167.32 177.95 L 167.43 117.31 L 167.54 189.59 L 167.76 111.49 L 167.86 164.89 L 168.08 108.95 L 168.19 112.85 L 168.3 155.62 L 168.40 105.44 L 168.62 113.74 L 168.73 111.26 L 168.84 161.41 L 169.05 111.45 L 169.16 126.02 L 169.27 164.42 L 169.38 132.11 L 169.48 184.65 L 169.59 111.81 L 169.70 176.29 L 169.81 111.14 L 169.92 114.11 L 170.13 198.32 L 170.24 185.13 L 170.35 136.25 L 170.46 179.71 L 170.67 109.38 L 170.78 147.16 L 170.89 143.00 L 171 172.63 L 171.10 116.81 L 171.32 164.97 L 171.43 159.10 L 171.64 109.82 L 171.75 163.99 L 171.86 155.28 L 171.97 160.92 L 172.08 121.51 L 172.18 129.90 L 172.29 108.06 L 172.40 117.84 L 172.51 163.50 L 172.62 152.03 L 172.72 171.00 L 172.83 160.66 L 172.94 184.85 L 173.16 105.64 L 173.26 129.93 L 173.48 108.14 L 173.7 155.49 L 173.80 159.69 L 173.91 121.53 L 174.24 192.30 L 174.34 124.04 L 174.45 128.86 L 174.56 154.66 L 174.78 104.03 L 174.88 184.42 L 174.99 106.79 L 175.10 143.27 L 175.32 108.23 L 175.42 102.81 L 175.53 105.56 L 175.64 151.80 L 175.75 106.83 L 176.07 197.85 L 176.18 141.86 L 176.29 178.36 L 176.4 177.64 L 176.61 105.43 L 176.72 171.45 L 176.83 107.96 L 176.94 109.06 L 177.15 178.10 L 177.26 111.67 L 177.37 120.88 L 177.48 113.79 L 177.69 207.23 L 177.80 108.30 L 177.91 159.80 L 178.02 101.44 L 178.12 109.05 L 178.23 106.59 L 178.34 185.12 L 178.77 109.10 L 178.88 128.29 L 178.99 120.41 L 179.20 188.04 L 179.31 175.34 L 179.53 104.72 L 179.64 106.70 L 179.74 160.32 L 179.96 109.36 L 180.07 126.19 L 180.28 105.63 L 180.39 133.13 L 180.61 110.71 L 180.72 140.20 L 180.93 108.73 L 181.04 109.32 L 181.15 154.62 L 181.26 141.33 L 181.36 107.54 L 181.47 109.81 L 181.69 194.42 L 181.8 110.70 L 181.90 141.18 L 182.01 117.89 L 182.12 163.01 L 182.23 160.27 L 182.34 186.61 L 182.44 169.93 L 182.66 110.08 L 182.98 205.09 L 183.09 203.78 L 183.20 111.67 L 183.31 143.33 L 183.52 104.37 L 183.74 157.87 L 183.85 108.62 L 183.96 178.67 L 184.17 106.61 L 184.39 148.57 L 184.60 124.53 L 184.71 141.74 L 185.04 104.56 L 185.14 104.62 L 185.25 131.72 L 185.36 109.38 L 185.58 176.88 L 185.68 132.45 L 185.79 148.23 L 185.90 198.21 L 186.01 176.99 L 186.12 200.19 L 186.22 199.27 L 186.44 149.40 L 186.66 106.61 L 186.87 155.56 L 186.98 127.83 L 187.09 163.85 L 187.2 112.42 L 187.30 168.06 L 187.63 130.46 L 187.74 123.74 L 187.84 204.23 L 187.95 108.51 L 188.06 124.16 L 188.17 173.24 L 188.28 170.04 L 188.38 130.50 L 188.49 187.52 L 188.71 106.03 L 188.82 136.60 L 189.03 101.06 L 189.36 166.38 L 189.46 117.26 L 189.57 136.21 L 189.68 108.30 L 189.79 179.58 L 190.00 170.26 L 190.11 105.55 L 190.33 183.30 L 190.44 185.87 L 190.65 152.56 L 190.76 115.57 L 190.98 155.40 L 191.08 152.96 L 191.19 117.51 L 191.30 184.04 L 191.41 109.40 L 191.52 115.39 L 191.62 109.66 L 191.84 185.39 L 191.95 187.11 L 192.06 174.01 L 192.16 107.95 L 192.27 187.87 L 192.70 112.51 L 192.92 152.87 L 193.14 101.35 L 193.24 108.65 L 193.46 155.53 L 193.57 129.57 L 193.78 170.62 L 193.89 121.09 L 194.00 178.03 L 194.22 105.29 L 194.32 106.24 L 194.43 100.89 L 194.54 104.84 L 194.76 178.44 L 194.86 154.32 L 194.97 190.35 L 195.19 113.29 L 195.3 137.24 L 195.40 122.70 L 195.51 157.35 L 195.62 106.77 L 195.73 155.20 L 195.84 112.64 L 195.94 158.78 L 196.05 106.69 L 196.16 108.68 L 196.27 118.12 L 196.38 161.22 L 196.48 108.11 L 196.59 175.88 L 196.70 162.52 L 196.81 113.08 L 196.92 169.21 L 197.02 152.55 L 197.24 207.59 L 197.35 181.94 L 197.56 111.36 L 197.67 152.49 L 197.78 152.07 L 198 108.35 L 198.21 204.58 L 198.32 104.78 L 198.43 136.05 L 198.54 117.86 L 198.75 167.40 L 198.86 150.33 L 199.08 105.45 L 199.18 102.25 L 199.29 152.98 L 199.51 110.30 L 199.62 111.28 L 199.72 106.06 L 199.83 119.16 L 200.05 179.68 L 200.16 107.48 L 200.26 165.24 L 200.48 104.42 L 200.7 105.91 L 200.80 111.11 L 201.02 104.87 L 201.13 108.57 L 201.24 184.06 L 201.34 115.62 L 201.45 151.25 L 201.56 138.05 L 201.67 207.84 L 201.78 107.59 L 201.88 157.29 L 201.99 107.72 L 202.10 108.23 L 202.21 111.74 L 202.32 210.01 L 202.53 104.93 L 202.64 156.73 L 202.75 109.83 L 202.86 111.42 L 203.07 129.66 L 203.18 118.09 L 203.50 163.86 L 203.72 108.72 L 203.83 106.71 L 203.94 138.14 L 204.04 127.59 L 204.37 190.17 L 204.48 157.42 L 204.58 163.70 L 204.80 106.51 L 204.91 109.00 L 205.02 106.21 L 205.12 141.43 L 205.23 106.89 L 205.34 111.97 L 205.45 101.54 L 205.77 110.53 L 205.88 104.64 L 205.99 110.99 L 206.20 161.42 L 206.42 109.07 L 206.53 106.33 L 206.74 179.09 L 206.96 105.31 L 207.07 111.93 L 207.18 154.04 L 207.28 101.58 L 207.39 109.77 L 207.50 192.01 L 207.82 155.63 L 207.93 171.84 L 208.15 107.87 L 208.26 132.60 L 208.36 109.50 L 208.47 130.29 L 208.58 104.78 L 208.8 161.58 L 209.01 141.37 L 209.12 184.59 L 209.34 107.58 L 209.44 106.25 L 209.55 108.44 L 209.66 106.84 L 209.77 111.82 L 210.09 104.41 L 210.20 153.83 L 210.42 115.89 L 210.52 124.99 L 210.63 121.61 L 210.85 157.51 L 211.06 108.16 L 211.28 105.47 L 211.39 161.58 L 211.60 103.16 L 211.82 106.95 L 211.93 124.39 L 212.04 108.25 L 212.36 176.06 L 212.58 211.00 L 212.68 204.13 L 212.90 110.50 L 213.01 131.72 L 213.12 195.06 L 213.22 172.82 L 213.33 181.83 L 213.44 145.15 L 213.66 162.07 L 213.76 116.71 L 213.98 172.34 L 214.09 139.59 L 214.30 191.93 L 214.63 112.97 L 214.74 109.15 L 214.84 123.84 L 215.06 111.31 L 215.28 105.03 L 215.38 106.04 L 215.49 120.32 L 215.60 107.05 L 215.71 107.87 L 215.92 179.82 L 216.03 113.76 L 216.14 153.04 L 216.25 110.87 L 216.36 178.37 L 216.46 118.83 L 216.57 128.99 L 216.68 175.70 L 216.79 111.59 L 216.9 169.35 L 217.00 111.11 L 217.11 132.36 L 217.22 112.17 L 217.33 117.34 L 217.44 132.94 L 217.65 107.80 L 217.87 161.15 L 218.08 189.00 L 218.19 108.72 L 218.41 182.33 L 218.52 124.04 L 218.73 186.82 L 218.95 106.40 L 219.06 108.78 L 219.16 206.05 L 219.38 108.21 L 219.49 110.55 L 219.6 107.31 L 219.70 108.89 L 219.81 119.56 L 219.92 101.39 L 220.03 111.49 L 220.14 172.37 L 220.35 111.89 L 220.46 164.05 L 220.68 105.85 L 220.78 104.90 L 220.89 109.02 L 221.00 136.88 L 221.11 124.72 L 221.32 163.94 L 221.43 157.83 L 221.54 110.18 L 221.65 111.32 L 221.76 167.74 L 221.86 109.03 L 221.97 111.07 L 222.08 110.29 L 222.19 111.81 L 222.40 105.36 L 222.51 193.37 L 222.62 180.79 L 222.73 113.25 L 222.84 119.34 L 222.94 154.43 L 223.05 118.21 L 223.16 153.53 L 223.38 110.85 L 223.48 113.90 L 223.59 110.55 L 223.70 101.36 L 223.81 108.82 L 224.02 152.40 L 224.13 108.45 L 224.35 140.44 L 224.56 101.11 L 224.67 111.84 L 224.78 107.70 L 225 202.30 L 225.21 109.51 L 225.32 115.18 L 225.43 154.04 L 225.54 108.09 L 225.75 172.09 L 225.86 165.66 L 225.97 114.21 L 226.18 167.61 L 226.29 108.37 L 226.40 188.41 L 226.51 140.77 L 226.62 151.81 L 226.72 111.67 L 226.94 170.96 L 227.16 105.10 L 227.26 107.98 L 227.37 105.65 L 227.48 106.96 L 227.7 114.87 L 227.80 170.55 L 227.91 109.56 L 228.02 135.68 L 228.13 111.52 L 228.34 209.31 L 228.45 170.27 L 228.56 193.59 L 228.78 106.02 L 228.88 105.50 L 228.99 103.98 L 229.10 106.11 L 229.21 111.50 L 229.42 167.75 L 229.53 162.13 L 229.75 111.67 L 230.18 151.65 L 230.4 104.92 L 230.50 106.24 L 230.61 108.08 L 230.72 178.94 L 230.83 129.04 L 231.04 189.82 L 231.15 169.75 L 231.37 122.51 L 231.48 111.00 L 231.58 130.45 L 231.69 177.44 L 231.80 173.56 L 232.02 176.50 L 232.12 204.33 L 232.23 133.61 L 232.34 136.38 L 232.56 187.49 L 232.66 104.64 L 232.88 123.59 L 232.99 111.73 L 233.1 157.45 L 233.42 107.10 L 233.53 105.89 L 233.64 108.07 L 233.74 133.99 L 233.96 102.86 L 234.07 103.60 L 234.18 111.65 L 234.39 211.52 L 234.50 138.48 L 234.72 197.17 L 234.82 197.88 L 235.04 112.89 L 235.15 117.31 L 235.26 103.87 L 235.47 172.90 L 235.58 107.40 L 235.8 135.74 L 236.01 197.61 L 236.12 187.19 L 236.34 128.85 L 236.44 182.66 L 236.55 131.34 L 236.66 133.01 L 236.77 191.57 L 236.88 170.09 L 236.98 112.57 L 237.09 123.65 L 237.20 148.05 L 237.31 133.77 L 237.52 194.70 L 237.74 126.40 L 237.85 131.50 L 237.96 110.95 L 238.06 134.32 L 238.17 132.43 L 238.28 175.84 L 238.5 115.38 L 238.60 192.12 L 238.82 121.53 L 238.93 115.89 L 239.04 125.60 L 239.14 114.03 L 239.25 130.44 L 239.36 117.80 L 239.47 123.40 L 239.58 136.17 L 239.68 176.70 L 239.79 174.24 L 239.90 126.99 L 240.01 136.96 L 240.22 133.09 L 240.33 106.86 L 240.44 135.95 L 240.55 133.35 L 240.66 196.12 L 240.76 183.82 L 240.98 107.85 L 241.09 173.34 L 241.2 122.93 L 241.30 157.08 L 241.41 132.71 L 241.52 199.42 L 241.63 174.45 L 241.84 198.23 L 242.06 131.21 L 242.17 188.78 L 242.38 120.65 L 242.60 211.47 L 242.71 179.40 L 242.82 195.95 L 242.92 138.23 L 243.03 190.73 L 243.14 136.92 L 243.25 189.55 L 243.36 181.71 L 243.46 136.07 L 243.57 137.83 L 243.68 130.13 L 243.9 109.57 L 244.00 129.72 L 244.11 113.46 L 244.44 175.34 L 244.54 132.02 L 244.76 134.97 L 244.87 188.85 L 245.08 129.85 L 245.30 132.64 L 245.52 118.78 L 245.62 179.59 L 245.73 131.05 L 245.95 206.63 L 246.06 199.55 L 246.16 113.65 L 246.38 174.64 L 246.49 179.10 L 246.6 110.48 L 246.70 146.86 L 246.81 116.45 L 247.03 190.34 L 247.14 212.15 L 247.35 111.02 L 247.57 184.05 L 247.68 134.71 L 247.78 189.54 L 247.89 184.41 L 248.00 116.73 L 248.22 126.49 L 248.43 136.45 L 248.54 125.86 L 248.65 131.10 L 248.76 169.16 L 248.97 132.64 L 249.08 131.27 L 249.19 133.02 L 249.3 105.45 L 249.40 130.71 L 249.51 114.31 L 249.62 132.72 L 249.73 108.79 L 249.84 168.06 L 249.94 152.41 L 250.05 113.19 L 250.16 133.87 L 250.27 121.42 L 250.38 195.33 L 250.48 182.32 L 250.59 129.67 L 250.70 136.12 L 250.81 135.23 L 250.92 186.31 L 251.02 178.68 L 251.13 178.96 L 251.24 117.97 L 251.46 206.14 L 251.56 188.93 L 251.78 138.27 L 251.89 118.91 L 252 134.62 L 252.10 114.95 L 252.21 132.29 L 252.32 130.38 L 252.43 116.61 L 252.54 138.48 L 252.64 110.52 L 252.75 130.54 L 252.86 109.63 L 253.08 208.30 L 253.18 195.74 L 253.29 207.97 L 253.72 117.31 L 253.83 133.79 L 254.05 127.32 L 254.16 172.22 L 254.37 108.83 L 254.48 125.65 L 254.59 116.68 L 254.7 127.94 L 254.80 112.83 L 255.02 204.16 L 255.13 130.43 L 255.34 179.43 L 255.45 119.66 L 255.56 133.73 L 255.67 190.04 L 255.78 187.53 L 255.88 200.30 L 256.10 117.54 L 256.32 148.68 L 256.53 131.57 L 256.64 129.41 L 256.75 122.66 L 256.86 137.62 L 256.96 102.54 L 257.07 179.94 L 257.29 108.93 L 257.4 136.15 L 257.50 110.51 L 257.61 134.86 L 257.72 130.77 L 257.94 181.52 L 258.04 195.08 L 258.26 131.86 L 258.37 133.95 L 258.48 109.44 L 258.69 136.91 L 258.80 111.97 L 259.02 195.87 L 259.12 118.81 L 259.23 138.40 L 259.34 188.80 L 259.45 186.59 L 259.66 108.28 L 259.77 126.65 L 259.88 124.74 L 260.1 133.12 L 260.20 164.58 L 260.31 130.28 L 260.42 131.63 L 260.53 211.69 L 260.64 177.84 L 260.74 181.67 L 260.85 171.26 L 261.07 119.63 L 261.18 138.82 L 261.28 135.69 L 261.50 206.13 L 261.61 180.58 L 261.72 182.74 L 261.82 122.39 L 261.93 133.91 L 262.04 192.87 L 262.26 127.66 L 262.36 136.11 L 262.69 128.99 L 262.8 198.66 L 263.01 127.76 L 263.12 121.89 L 263.23 182.78 L 263.34 135.97 L 263.44 187.93 L 263.66 137.93 L 263.77 109.54 L 263.88 178.88 L 263.98 178.67 L 264.09 173.27 L 264.31 129.70 L 264.42 109.84 L 264.52 169.34 L 264.85 122.50 L 264.96 134.12 L 265.06 133.68 L 265.17 195.35 L 265.28 187.08 L 265.5 113.28 L 265.60 125.46 L 265.71 114.38 L 266.04 177.27 L 266.14 173.28 L 266.25 136.12 L 266.36 171.90 L 266.47 122.16 L 266.58 130.50 L 266.68 177.08 L 266.79 168.07 L 267.01 109.06 L 267.12 104.68 L 267.22 186.14 L 267.33 113.12 L 267.44 127.63 L 267.55 197.60 L 267.66 195.23 L 267.76 198.63 L 267.87 137.52 L 268.09 212.72 L 268.41 134.49 L 268.52 135.88 L 268.63 144.10 L 268.74 193.04 L 268.95 108.62 L 269.17 138.75 L 269.28 191.59 L 269.38 185.87 L 269.49 130.63 L 269.71 188.09 L 269.82 175.15 L 269.92 133.89 L 270.03 173.95 L 270.25 106.07 L 270.36 178.61 L 270.46 114.83 L 270.68 126.93 L 270.9 128.44 L 271.00 108.62 L 271.11 138.76 L 271.22 138.48 L 271.33 138.71 L 271.54 191.49 L 271.76 207.91 L 271.87 186.33 L 271.98 113.13 L 272.19 136.62 L 272.30 139.07 L 272.52 114.64 L 272.73 185.47 L 272.84 119.11 L 272.95 144.50 L 273.16 128.19 L 273.27 170.79 L 273.49 126.13 L 273.6 134.81 L 273.70 105.17 L 273.92 118.38 L 274.03 108.23 L 274.24 142.69 L 274.35 125.09 L 274.46 128.56 L 274.68 187.61 L 274.78 127.96 L 274.89 144.02 L 275.00 185.16 L 275.22 121.54 L 275.32 115.30 L 275.43 123.32 L 275.54 112.45 L 275.65 196.36 L 275.76 134.83 L 275.86 146.03 L 275.97 145.47 L 276.08 175.65 L 276.3 110.22 L 276.40 187.44 L 276.62 143.62 L 276.73 145.42 L 276.84 189.39 L 276.94 186.27 L 277.05 193.23 L 277.16 188.37 L 277.59 104.46 L 277.70 115.94 L 277.81 110.41 L 278.02 204.99 L 278.13 199.24 L 278.24 137.34 L 278.35 201.52 L 278.56 108.77 L 278.67 111.88 L 278.78 110.51 L 279 141.48 L 279.10 200.48 L 279.21 194.83 L 279.32 197.32 L 279.43 181.40 L 279.64 121.69 L 279.75 107.86 L 279.86 110.01 L 279.97 117.14 L 280.08 166.61 L 280.29 106.76 L 280.40 127.40 L 280.51 113.07 L 280.62 137.38 L 280.94 108.46 L 281.05 123.16 L 281.16 115.56 L 281.26 115.70 L 281.37 115.54 L 281.59 142.57 L 281.7 108.03 L 281.91 145.56 L 282.13 185.68 L 282.24 168.75 L 282.45 113.96 L 282.56 170.73 L 282.67 123.88 L 282.88 193.97 L 282.99 122.34 L 283.10 148.34 L 283.21 136.64 L 283.32 201.55 L 283.42 192.21 L 283.53 134.90 L 283.64 149.82 L 283.75 116.78 L 284.18 149.88 L 284.4 104.88 L 284.50 114.71 L 284.61 112.57 L 284.72 113.98 L 284.83 199.41 L 284.94 197.72 L 285.15 110.60 L 285.26 108.00 L 285.37 131.96 L 285.48 183.80 L 285.58 139.20 L 285.80 150.10 L 285.91 186.97 L 286.02 108.96 L 286.23 150.46 L 286.34 184.39 L 286.45 174.70 L 286.56 115.44 L 286.66 115.98 L 286.77 107.36 L 287.1 168.49 L 287.31 110.15 L 287.42 186.16 L 287.53 166.08 L 287.64 200.64 L 287.74 183.52 L 287.85 112.86 L 288.07 191.33 L 288.28 106.07 L 288.39 142.76 L 288.50 133.41 L 288.61 150.15 L 288.72 102.83 L 288.82 125.99 L 288.93 102.43 L 289.04 107.97 L 289.15 152.27 L 289.36 103.55 L 289.47 112.80 L 289.69 202.04 L 289.8 138.68 L 289.90 183.29 L 290.01 180.67 L 290.23 166.02 L 290.34 121.93 L 290.55 189.38 L 290.66 212.41 L 290.77 199.99 L 290.88 106.40 L 290.98 107.48 L 291.20 139.43 L 291.31 106.74 L 291.52 121.75 L 291.74 129.38 L 291.96 198.06 L 292.06 188.50 L 292.28 113.45 L 292.39 114.43 L 292.5 125.14 L 292.60 122.22 L 292.71 122.64 L 292.82 113.58 L 293.04 184.57 L 293.14 189.90 L 293.25 153.59 L 293.36 168.84 L 293.58 111.89 L 293.68 114.96 L 293.79 153.94 L 294.01 112.76 L 294.12 125.95 L 294.22 154.44 L 294.33 153.73 L 294.44 121.10 L 294.55 133.46 L 294.76 123.30 L 294.87 127.25 L 295.09 202.82 L 295.2 205.35 L 295.30 190.44 L 295.52 124.98 L 295.63 124.61 L 295.74 185.06 L 295.84 103.38 L 295.95 122.89 L 296.06 104.99 L 296.17 119.79 L 296.28 187.55 L 296.49 103.38 L 296.71 197.55 L 296.82 183.80 L 296.92 195.55 L 297.03 124.56 L 297.25 202.97 L 297.46 172.62 L 297.68 195.97 L 297.79 124.93 L 297.9 190.76 L 298.00 187.65 L 298.11 165.84 L 298.22 193.87 L 298.33 192.26 L 298.44 188.34 L 298.54 130.75 L 298.65 177.51 L 298.76 115.14 L 298.87 123.90 L 299.08 104.38 L 299.30 131.32 L 299.41 142.85 L 299.52 171.08 L 299.62 168.60 L 299.73 117.31 L 299.95 133.78 L 300.06 120.98 L 300.16 124.41 L 300.27 122.71 L 300.38 116.16 L 300.49 120.66 L 300.6 144.62 L 300.70 204.28 L 300.81 128.75 L 300.92 163.69 L 301.03 111.04 L 301.14 189.58 L 301.24 142.29 L 301.35 149.95 L 301.57 193.03 L 301.68 113.46 L 301.78 155.39 L 301.89 130.83 L 302.00 170.47 L 302.11 158.00 L 302.22 179.26 L 302.32 169.51 L 302.43 142.38 L 302.54 189.52 L 302.65 112.48 L 302.76 115.93 L 302.86 112.45 L 302.97 121.46 L 303.08 120.16 L 303.19 123.65 L 303.40 118.92 L 303.51 107.31 L 303.62 119.96 L 303.73 149.78 L 303.94 115.47 L 304.05 114.78 L 304.16 193.79 L 304.59 120.61 L 304.70 113.71 L 304.81 190.76 L 304.92 111.02 L 305.13 137.68 L 305.46 108.29 L 305.56 100.56 L 305.67 120.21 L 305.89 181.14 L 306 179.69 L 306.10 184.85 L 306.21 114.62 L 306.32 116.43 L 306.43 164.37 L 306.54 112.96 L 306.64 192.61 L 306.75 130.35 L 306.86 133.72 L 306.97 113.51 L 307.08 145.00 L 307.18 116.78 L 307.29 121.56 L 307.40 111.60 L 307.51 178.31 L 307.62 110.59 L 307.83 159.03 L 307.94 168.19 L 308.05 114.84 L 308.26 190.51 L 308.59 140.63 L 308.7 171.96 L 308.80 118.70 L 309.02 168.53 L 309.24 102.34 L 309.45 121.10 L 309.56 187.40 L 309.88 110.01 L 309.99 120.01 L 310.21 111.18 L 310.32 120.16 L 310.42 181.72 L 310.53 162.20 L 310.64 114.27 L 310.75 145.55 L 310.96 107.07 L 311.07 136.47 L 311.18 119.22 L 311.29 182.82 L 311.4 171.01 L 311.50 118.41 L 311.72 192.85 L 311.94 113.85 L 312.04 114.11 L 312.15 113.08 L 312.37 108.31 L 312.58 187.72 L 312.69 139.53 L 312.91 189.57 L 313.02 204.60 L 313.23 125.44 L 313.34 163.46 L 313.45 158.38 L 313.56 163.61 L 313.66 194.70 L 313.77 142.03 L 313.88 159.32 L 313.99 114.28 L 314.1 120.90 L 314.31 113.80 L 314.42 119.57 L 314.53 118.40 L 314.74 180.42 L 314.85 112.05 L 314.96 171.78 L 315.07 106.43 L 315.18 121.41 L 315.28 171.17 L 315.39 120.17 L 315.50 121.32 L 315.61 114.36 L 315.72 171.55 L 315.82 102.38 L 315.93 107.48 L 316.04 103.51 L 316.15 118.75 L 316.36 196.75 L 316.47 189.57 L 316.58 170.96 L 316.69 118.29 L 316.8 186.62 L 316.90 182.87 L 317.12 110.39 L 317.23 113.27 L 317.44 196.18 L 317.55 205.57 L 317.77 120.74 L 317.88 192.86 L 317.98 171.15 L 318.09 183.14 L 318.20 113.42 L 318.31 116.45 L 318.42 125.04 L 318.74 108.09 L 318.85 188.78 L 318.96 168.61 L 319.06 111.47 L 319.17 173.67 L 319.28 165.75 L 319.39 178.13 L 319.71 113.81 L 319.93 178.12 L 320.04 175.78 L 320.14 181.46 L 320.25 196.53 L 320.36 175.95 L 320.58 196.81 L 321.12 107.36 L 321.22 176.72 L 321.33 165.58 L 321.44 119.73 L 321.55 196.62 L 321.66 196.24 L 321.76 170.30 L 321.87 192.44 L 321.98 162.67 L 322.09 169.08 L 322.2 205.21 L 322.30 198.87 L 322.41 167.30 L 322.63 196.73 L 322.84 122.31 L 322.95 202.40 L 323.17 112.56 L 323.28 131.91 L 323.38 209.36 L 323.49 195.76 L 323.60 196.60 L 323.71 109.29 L 323.82 113.82 L 323.92 186.61 L 324.03 145.62 L 324.14 196.23 L 324.36 179.05 L 324.46 206.12 L 324.68 120.89 L 324.9 168.51 L 325.00 110.73 L 325.11 183.09 L 325.33 158.74 L 325.44 178.23 L 325.54 142.70 L 325.65 194.79 L 325.76 171.61 L 325.87 187.20 L 325.98 120.23 L 326.08 121.52 L 326.19 168.64 L 326.41 116.11 L 326.52 132.36 L 326.73 193.49 L 326.84 195.88 L 326.95 180.77 L 327.16 205.97 L 327.38 179.97 L 327.49 184.28 L 327.6 109.93 L 327.70 120.83 L 327.92 185.68 L 328.03 153.43 L 328.14 190.50 L 328.24 129.30 L 328.35 135.28 L 328.46 200.19 L 328.57 117.24 L 328.89 144.36 L 329.00 121.74 L 329.11 172.61 L 329.32 111.22 L 329.43 157.10 L 329.54 114.97 L 329.76 158.50 L 329.86 120.36 L 329.97 122.30 L 330.08 133.70 L 330.19 169.45 L 330.3 122.67 L 330.40 124.88 L 330.51 111.60 L 330.62 119.64 L 330.73 107.20 L 330.94 120.59 L 331.05 204.68 L 331.16 203.90 L 331.27 169.44 L 331.38 191.41 L 331.48 175.14 L 331.70 103.46 L 331.92 172.00 L 332.02 109.12 L 332.24 186.24 L 332.35 123.96 L 332.46 176.73 L 332.56 111.53 L 332.78 136.30 L 332.89 178.76 L 333.10 168.01 L 333.21 176.82 L 333.32 124.01 L 333.43 195.60 L 333.54 154.02 L 333.64 181.81 L 333.86 135.25 L 334.08 174.28 L 334.29 197.83 L 334.40 140.36 L 334.51 170.05 L 334.62 166.16 L 334.83 114.18 L 334.94 137.95 L 335.16 111.25 L 335.26 122.99 L 335.48 157.46 L 335.59 116.19 L 335.7 118.12 L 335.80 190.72 L 336.02 124.92 L 336.13 207.56 L 336.24 187.65 L 336.45 107.83 L 336.56 126.59 L 336.67 112.17 L 336.78 125.03 L 336.99 107.99 L 337.10 189.55 L 337.21 163.14 L 337.42 188.50 L 337.53 125.91 L 337.64 144.53 L 337.75 126.38 L 337.86 182.87 L 337.96 176.87 L 338.07 136.21 L 338.18 198.34 L 338.4 179.47 L 338.50 123.97 L 338.61 164.15 L 338.72 113.24 L 338.83 150.11 L 338.94 119.10 L 339.04 140.16 L 339.15 127.50 L 339.37 166.34 L 339.80 105.14 L 340.02 178.79 L 340.12 115.82 L 340.23 197.49 L 340.34 129.08 L 340.56 173.89 L 340.66 165.05 L 340.77 177.22 L 340.88 117.51 L 341.20 145.17 L 341.42 122.10 L 341.53 119.74 L 341.64 174.76 L 341.74 123.29 L 341.96 165.91 L 342.07 148.40 L 342.28 176.84 L 342.39 128.73 L 342.61 203.91 L 342.72 127.21 L 342.82 127.73 L 342.93 120.60 L 343.04 199.14 L 343.15 120.78 L 343.26 130.15 L 343.36 183.23 L 343.47 125.07 L 343.58 129.39 L 343.8 111.46 L 343.90 126.25 L 344.01 165.01 L 344.12 129.85 L 344.44 195.91 L 344.55 122.20 L 344.66 165.24 L 344.88 108.00 L 344.98 114.12 L 345.20 165.20 L 345.31 120.71 L 345.42 194.57 L 345.63 158.22 L 345.74 128.27 L 345.85 164.09 L 345.96 130.64 L 346.06 188.82 L 346.17 176.04 L 346.28 182.02 L 346.5 112.81 L 346.60 152.46 L 346.71 121.19 L 346.93 139.32 L 347.04 123.04 L 347.14 176.78 L 347.25 118.26 L 347.36 191.05 L 347.47 132.45 L 347.68 197.74 L 347.90 122.92 L 348.01 178.37 L 348.22 159.84 L 348.44 106.99 L 348.66 195.80 L 348.87 122.24 L 349.2 178.98 L 349.41 108.44 L 349.52 184.16 L 349.63 134.26 L 349.74 192.50 L 349.84 111.51 L 349.95 141.22 L 350.17 118.84 L 350.38 196.71 L 350.49 139.92 L 350.60 176.55 L 350.71 123.43 L 350.82 123.55 L 351.03 130.46 L 351.14 166.93 L 351.25 121.83 L 351.46 192.03 L 351.79 104.16 L 351.9 124.04 L 352.00 123.07 L 352.11 137.93 L 352.22 121.54 L 352.65 162.93 L 352.76 163.99 L 352.87 190.25 L 352.98 132.20 L 353.08 176.68 L 353.19 163.53 L 353.41 122.18 L 353.52 191.41 L 353.62 176.74 L 353.73 133.95 L 353.95 148.65 L 354.16 113.33 L 354.38 135.90 L 354.49 134.16 L 354.6 185.63 L 354.81 119.59 L 354.92 137.88 L 355.14 184.74 L 355.24 187.75 L 355.35 109.57 L 355.68 183.72 L 355.78 133.73 L 356.11 202.57 L 356.22 184.82 L 356.32 123.37 L 356.43 136.48 L 356.65 180.28 L 356.76 205.06 L 356.97 125.95 L 357.08 125.75 L 357.19 163.54 L 357.40 121.41 L 357.51 122.27 L 357.62 185.46 L 357.84 140.96 L 358.05 187.25 L 358.16 129.78 L 358.27 178.62 L 358.38 164.00 L 358.48 109.66 L 358.59 110.95 L 358.81 163.60 L 359.02 124.78 L 359.13 147.28 L 359.24 110.33 L 359.35 150.50 L 359.46 143.58 L 359.56 147.20 L 359.67 131.06 L 359.78 179.39 L 359.89 108.34 L 360 114.80 L 360.10 156.37 L 360.21 131.53 L 360.32 194.23 L 360.43 185.21 L 360.54 134.91 L 360.64 188.29 L 360.75 159.68 L 360.86 180.57 L 361.08 130.88 L 361.18 173.93 L 361.29 161.66 L 361.51 125.54 L 361.72 201.88 L 361.83 140.37 L 361.94 179.95 L 362.05 104.82 L 362.16 108.20 L 362.37 198.63 L 362.48 178.88 L 362.59 184.04 L 362.7 174.64 L 362.80 193.25 L 362.91 131.99 L 363.02 164.18 L 363.24 138.14 L 363.34 147.55 L 363.45 143.07 L 363.56 130.24 L 363.67 137.37 L 363.78 126.39 L 363.88 193.36 L 363.99 191.53 L 364.10 149.19 L 364.32 200.67 L 364.42 190.97 L 364.53 144.19 L 364.86 198.62 L 365.07 138.48 L 365.18 206.24 L 365.29 204.14 L 365.4 189.11 L 365.50 134.99 L 365.72 194.23 L 365.83 192.91 L 365.94 193.57 L 366.04 163.18 L 366.15 194.88 L 366.37 138.64 L 366.58 131.48 L 366.69 199.85 L 366.80 126.09 L 366.91 149.01 L 367.12 115.80 L 367.23 140.87 L 367.34 113.52 L 367.45 136.94 L 367.56 205.48 L 367.66 179.64 L 367.77 182.13 L 367.88 135.34 L 367.99 161.21 L 368.1 119.13 L 368.42 205.17 L 368.85 119.15 L 369.07 198.10 L 369.18 155.33 L 369.28 185.38 L 369.39 147.60 L 369.61 180.18 L 369.72 124.46 L 369.82 126.75 L 369.93 180.63 L 370.04 112.13 L 370.26 139.70 L 370.36 127.91 L 370.69 180.98 L 370.8 106.22 L 370.90 189.29 L 371.01 145.72 L 371.12 189.91 L 371.34 138.87 L 371.44 144.92 L 371.55 212.51 L 371.66 209.74 L 371.88 160.81 L 371.98 193.87 L 372.09 189.43 L 372.42 127.96 L 372.74 210.51 L 372.85 158.62 L 372.96 185.06 L 373.06 157.17 L 373.17 194.98 L 373.5 110.90 L 373.71 157.75 L 373.82 193.28 L 373.93 146.48 L 374.04 210.00 L 374.14 153.41 L 374.36 180.89 L 374.47 194.52 L 374.68 132.68 L 374.79 125.26 L 374.90 161.62 L 375.01 158.31 L 375.12 161.17 L 375.22 136.40 L 375.55 183.91 L 375.66 124.34 L 375.76 128.19 L 375.87 195.90 L 376.09 150.14 L 376.2 143.18 L 376.30 113.75 L 376.41 114.84 L 376.52 149.73 L 376.63 136.65 L 376.74 200.64 L 376.95 107.94 L 377.06 129.88 L 377.17 115.59 L 377.28 189.67 L 377.38 148.75 L 377.49 161.62 L 377.60 123.77 L 377.92 196.70 L 378.03 183.36 L 378.14 185.43 L 378.25 159.98 L 378.36 191.12 L 378.46 149.94 L 378.57 168.69 L 378.68 144.22 L 378.79 181.56 L 379.00 137.78 L 379.11 133.25 L 379.22 193.40 L 379.44 111.22 L 379.54 154.09 L 379.65 132.12 L 379.87 137.15 L 379.98 202.60 L 380.19 136.86 L 380.30 139.89 L 380.52 168.42 L 380.62 121.49 L 380.84 201.87 L 380.95 128.82 L 381.16 188.99 L 381.49 106.96 L 381.6 161.91 L 381.81 148.16 L 381.92 192.85 L 382.03 110.38 L 382.35 189.27 L 382.46 189.59 L 382.57 206.96 L 382.68 190.74 L 382.78 194.91 L 382.89 193.09 L 383.00 130.34 L 383.11 130.68 L 383.22 199.85 L 383.43 153.68 L 383.54 122.47 L 383.65 138.13 L 383.76 115.99 L 383.97 157.88 L 384.19 135.46 L 384.3 191.88 L 384.51 187.43 L 384.62 193.92 L 384.94 108.72 L 385.05 155.99 L 385.16 151.55 L 385.27 153.79 L 385.38 129.88 L 385.59 186.10 L 385.81 117.35 L 385.92 123.67 L 386.02 147.12 L 386.13 132.54 L 386.35 190.85 L 386.46 146.36 L 386.56 149.80 L 386.67 136.83 L 386.89 192.43 L 387 211.49 L 387.10 189.32 L 387.21 139.76 L 387.32 160.04 L 387.43 153.34 L 387.54 158.95 L 387.64 195.21 L 387.75 158.40 L 387.86 186.70 L 387.97 111.57 L 388.08 168.79 L 388.40 142.29 L 388.51 194.79 L 388.62 154.90 L 388.72 194.41 L 388.83 154.93 L 388.94 157.62 L 389.05 163.84 L 389.16 204.05 L 389.7 139.25 L 389.91 201.85 L 390.02 156.59 L 390.13 160.96 L 390.24 127.85 L 390.45 188.38 L 390.67 139.18 L 390.88 187.12 L 390.99 160.30 L 391.10 186.50 L 391.21 127.91 L 391.32 132.45 L 391.42 125.71 L 391.64 199.27 L 391.75 180.75 L 391.86 196.22 L 392.07 154.03 L 392.18 188.55 L 392.29 187.29 L 392.4 199.84 L 392.50 198.33 L 392.72 106.31 L 392.83 139.81 L 393.04 112.62 L 393.15 111.15 L 393.48 157.62 L 393.58 202.06 L 393.69 140.67 L 393.80 157.29 L 394.02 118.60 L 394.23 167.15 L 394.34 125.13 L 394.45 186.12 L 394.56 138.62 L 394.66 185.32 L 394.77 164.99 L 394.88 188.19 L 394.99 187.03 L 395.1 161.26 L 395.20 170.65 L 395.42 114.33 L 395.53 133.71 L 395.64 191.10 L 395.85 137.68 L 395.96 198.40 L 396.28 128.41 L 396.50 177.89 L 396.61 164.85 L 396.72 185.65 L 396.82 181.23 L 396.93 194.72 L 397.04 193.90 L 397.15 167.70 L 397.36 202.86 L 397.47 187.32 L 397.58 130.13 L 397.69 161.77 L 397.8 159.10 L 397.90 207.69 L 398.01 199.15 L 398.12 139.28 L 398.23 153.00 L 398.34 197.73 L 398.44 136.24 L 398.55 137.31 L 398.77 159.84 L 398.88 138.90 L 398.98 162.93 L 399.09 116.99 L 399.42 140.63 L 399.52 144.71 L 399.63 161.61 L 399.85 141.14 L 400.06 186.80 L 400.17 194.95 L 400.28 134.75 L 400.5 183.45 L 400.60 164.15 L 400.71 173.65 L 400.82 46.56 L 400.93 172.21 L 401.04 116.76 L 401.14 166.08 L 401.36 130.50 L 401.47 140.36 L 401.68 192.09 L 401.79 180.84 L 401.90 187.38 L 402.22 109.07 L 402.55 164.68 L 402.66 167.22 L 402.76 194.01 L 402.98 127.08 L 403.09 200.15 L 403.2 195.01 L 403.30 168.28 L 403.41 111.71 L 403.52 116.11 L 403.84 168.94 L 403.95 162.66 L 404.06 187.42 L 404.17 130.05 L 404.28 140.30 L 404.38 130.84 L 404.49 177.92 L 404.60 174.43 L 404.71 184.50 L 404.82 174.74 L 404.92 208.88 L 405.03 201.32 L 405.14 163.52 L 405.25 166.42 L 405.36 146.21 L 405.57 189.37 L 405.79 168.32 L 405.9 136.96 L 406.11 198.19 L 406.22 108.37 L 406.33 136.02 L 406.44 123.64 L 406.54 135.35 L 406.65 196.10 L 406.87 120.17 L 406.98 197.91 L 407.19 157.49 L 407.30 184.80 L 407.41 156.94 L 407.62 169.52 L 407.73 192.61 L 407.95 122.73 L 408.06 137.64 L 408.16 179.65 L 408.27 142.70 L 408.38 171.36 L 408.6 135.31 L 408.70 183.71 L 408.81 162.10 L 408.92 196.57 L 409.03 186.04 L 409.14 188.16 L 409.24 184.34 L 409.46 116.46 L 409.57 152.44 L 409.68 125.02 L 409.89 131.35 L 410.00 125.59 L 410.22 179.92 L 410.32 173.83 L 410.43 175.95 L 410.54 129.41 L 410.65 175.15 L 410.76 129.35 L 410.86 181.41 L 411.08 129.25 L 411.19 177.95 L 411.3 177.57 L 411.40 128.98 L 411.51 169.40 L 411.73 153.49 L 411.94 175.10 L 412.05 178.60 L 412.27 172.12 L 412.38 154.10 L 412.48 179.68 L 412.59 136.32 L 412.81 185.08 L 412.92 185.17 L 413.02 172.85 L 413.13 183.27 L 413.35 178.84 L 413.46 184.22 L 413.67 173.86 L 413.89 112.71 L 414.21 171.48 L 414.32 169.08 L 414.43 118.48 L 414.75 177.87 L 414.97 125.82 L 415.08 125.86 L 415.18 126.18 L 415.29 117.50 L 415.40 123.71 L 415.51 172.47 L 415.72 115.63 L 415.94 127.67 L 416.05 165.36 L 416.16 129.50 L 416.26 134.26 L 416.48 123.24 L 416.7 152.32 L 416.80 146.86 L 416.91 165.19 L 417.13 105.12 L 417.34 169.51 L 417.45 120.55 L 417.56 126.40 L 417.67 154.22 L 417.78 129.13 L 417.99 164.37 L 418.10 164.30 L 418.32 119.06 L 418.42 110.04 L 418.75 168.13 L 418.86 161.55 L 418.96 123.96 L 419.07 163.51 L 419.18 123.19 L 419.4 133.50 L 419.61 165.20 L 419.83 125.64 L 419.94 134.03 L 420.04 126.48 L 420.15 161.70 L 420.26 160.54 L 420.48 170.33 L 420.69 126.65 L 420.91 159.06 L 421.12 116.56 L 421.23 167.19 L 421.34 159.36 L 421.56 110.41 L 421.66 158.15 L 421.77 157.49 L 421.88 147.25 L 421.99 123.50 L 422.1 129.74 L 422.20 105.84 L 422.31 111.06 L 422.42 166.02 L 422.53 159.61 L 422.74 124.14 L 422.85 124.76 L 422.96 167.30 L 423.07 159.04 L 423.18 124.05 L 423.28 154.82 L 423.39 83.28 L 423.50 155.50 L 423.72 137.53 L 423.82 145.46 L 424.04 120.66 L 424.15 120.89 L 424.26 131.20 L 424.36 118.61 L 424.69 151.94 L 424.8 147.80 L 425.01 133.25 L 425.23 155.33 L 425.44 118.82 L 425.55 123.26 L 425.66 113.35 L 425.77 120.41 L 425.98 154.66 L 426.09 163.86 L 426.42 132.06 L 426.52 130.12 L 426.74 153.03 L 426.85 150.45 L 426.96 118.63 L 427.17 139.83 L 427.28 131.01 L 427.5 152.55 L 427.60 146.87 L 427.71 107.52 L 427.82 170.16 L 427.93 145.39 L 428.04 149.06 L 428.14 158.81 L 428.25 132.67 L 428.36 147.00 L 428.47 129.25 L 428.58 132.00 L 428.68 125.82 L 428.90 131.13 L 429.01 132.13 L 429.12 136.12 L 429.22 135.69 L 429.33 126.57 L 429.44 127.81 L 429.55 136.55 L 429.76 129.00 L 429.87 134.21 L 429.98 128.06 L 430.09 133.63 L 430.2 129.15 L 430.30 134.86 L 430.41 129.63 L 430.52 149.76 L 430.63 133.89 L 430.74 135.86 L 430.84 127.14 L 430.95 128.58 L 431.17 123.69 L 431.49 134.28 L 431.60 128.24 L 431.71 136.57 L 431.82 130.31 L 431.92 132.79 L 432.14 125.00 L 432.25 135.19 L 432.36 128.39 L 432.46 133.40 L 432.57 128.02 L 432.68 131.41 L 432.79 128.68 L 432.9 120.72 L 433.11 131.57 L 433.22 124.72 L 433.33 125.52 L 433.44 132.52 L 433.54 126.28 L 433.65 129.54 L 433.76 123.98 L 433.98 132.70 L 434.08 129.00 L 434.19 117.6 L 434.41 128.90 L 434.52 122.08 L 434.62 122.57 L 434.73 129.88 L 434.84 121.99 L 434.95 132.44 L 435.06 129.89 L 435.27 117.17 L 435.38 116.16 L 435.49 123.84 L 435.6 122.34 L 435.70 123.19 L 435.81 122.93 L 435.92 123.61 L 436.03 123.45 L 436.14 122.73 L 436.24 123.25 L 436.68 135.71 L 436.89 138.72 L 437.43 143.95 L 437.76 146.27 L 437.86 145.88 L 438.08 154.86 L 438.3 163.14 L 438.40 149.76 L 438.62 181.68 L 438.73 181.76 L 438.84 187.96 L 438.94 158.64 L 439.05 196.56 L 439.16 145.44 L 439.38 207.01 L 439.48 208.90 L 439.59 205.44 L 439.70 220.22 L 439.81 210.29 L 439.92 210.90 L 440.02 237.93 L 440.13 228.93 L 440.24 232.73 L 440.35 243.05 L 440.56 236.98 L 440.67 239.84 L 440.78 218.98 L 441 245.43 L 441.10 249.59 L 441.21 218.59 L 441.54 248.57 L 441.64 239.84 L 441.75 249.15 L 442.08 226.17 L 442.18 231.76 L 442.29 246.49 L 442.51 223.28 L 442.83 254.15 L 443.16 224.58 L 443.37 234.91 L 443.48 238.66 L 443.59 231.49 L 443.80 246.75 L 444.02 236.64 L 444.34 244.32 L 444.45 233.67 L 444.56 248.82 L 444.78 238.70 L 444.88 244.36 L 444.99 235.76 L 445.21 253.83 L 445.42 242.12 L 445.53 238.14 L 445.64 250.21 L 445.75 248.13 L 445.86 233.46 L 445.96 247.45 L 446.18 237.39 L 446.29 243.06 L 446.4 240.95 L 446.50 248.80 L 446.61 239.83 L 446.72 240.45 L 447.04 247.66 L 447.15 243.82 L 447.26 245.28 L 447.37 244.26 L 447.48 247.57 L 447.58 246.83 L 447.80 252.98 L 447.91 249.25 L 448.12 252.53 L 448.23 251.99 L 448.34 253.11 L 448.56 256.57 L 448.99 264.81 L 449.1 271.2 L 449.1 271.2" clip-path="url(#pa253ac6e22)" style="fill: none; stroke: #000000; stroke-width: 0.6; stroke-linecap: square"/></g><g id="patch_3"><path d="M 50.25 282.84 L 50.25 26.97" style="fill: none; stroke: #000000; stroke-width: 0.8; stroke-linejoin: miter; stroke-linecap: square"/></g><g id="patch_4"><path d="M 449.16 282.84 L 449.16 26.97" style="fill: none; stroke: #000000; stroke-width: 0.8; stroke-linejoin: miter; stroke-linecap: square"/></g><g id="patch_5"><path d="M 50.25 282.84 L 449.16 282.84" style="fill: none; stroke: #000000; stroke-width: 0.8; stroke-linejoin: miter; stroke-linecap: square"/></g><g id="patch_6"><path d="M 50.25 26.97 L 449.16 26.97" style="fill: none; stroke: #000000; stroke-width: 0.8; stroke-linejoin: miter; stroke-linecap: square"/></g><g id="text_16"><g transform="translate(0.096 0.000)"><text style="font-size: 12px; font-family: 'DejaVu Sans', sans-serif; text-anchor: middle" x="249.708" y="20.976" transform="rotate(-0 249.708 20.976)">Deaveraged field sums for UK00CJ_20240829_192159_218508</text></g></g></g></g><defs><clipPath id="pa253ac6e22"><rect x="50.256" y="26.976" width="398.904" height="255.864"/></clipPath></defs></svg>

</body></html>
